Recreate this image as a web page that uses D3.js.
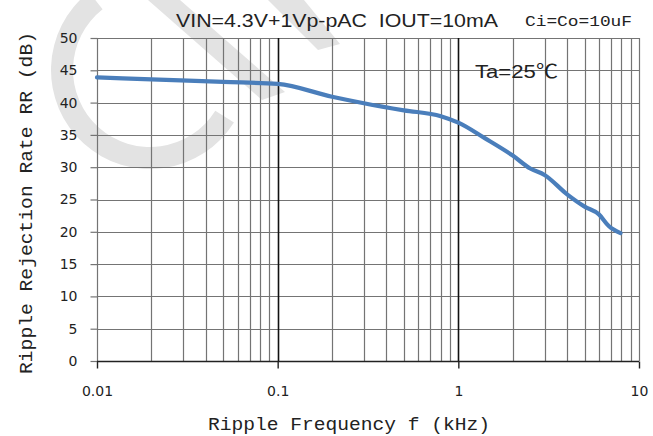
<!DOCTYPE html>
<html>
<head>
<meta charset="utf-8">
<script src="https://cdn.jsdelivr.net/npm/d3@7"></script>
<style>
  html, body { margin: 0; padding: 0; background: #fff; }
  svg { display: block; }
</style>
</head>
<body>
<svg id="chart" width="653" height="436"></svg>
<script>
// ---- data ----
const freqKHz = [0.01, 0.02, 0.05, 0.1, 0.2, 0.3, 0.5, 0.8, 1, 1.4, 2, 2.5, 3, 4, 5, 6, 6.8, 7.9];
const rejectionDB = [43.9, 43.6, 43.2, 42.9, 40.9, 39.9, 38.8, 37.9, 36.9, 34.5, 31.8, 29.8, 28.8, 25.8, 23.9, 22.7, 20.9, 19.8];
const xTickValues = [0.01, 0.1, 1, 10];
const xTickLabels = ["0.01", "0.1", "1", "10"];
const yTickValues = [0, 5, 10, 15, 20, 25, 30, 35, 40, 45, 50];
const titleText = "VIN=4.3V+1Vp-pAC  IOUT=10mA";
const capText = "Ci=Co=10uF";
const tempText = "Ta=25℃";
const xTitle = "Ripple Frequency f (kHz)";
const yTitle = "Ripple Rejection Rate RR (dB)";

// ---- layout ----
const svg = d3.select("#chart");
const L = 97, R = 639, T = 38, B = 361;
const x = d3.scaleLog().domain([0.01, 10]).range([L, R]);
const y = d3.scaleLinear().domain([0, 50]).range([B, T]);

// ---- watermark (light grey) ----
const wm = svg.append("g").attr("fill", "#e3e3e3");
wm.append("path")
  .attr("transform", "translate(150,70)")
  .attr("d", d3.arc()({innerRadius: 77, outerRadius: 99,
      startAngle: 122 * Math.PI / 180, endAngle: 322 * Math.PI / 180}));
wm.append("polygon").attr("points", "148,0 180,0 285,92 262,100");
wm.append("polygon").attr("points", "268,0 304,0 340,44 318,50");

// ---- grid ----
const grid = svg.append("g");
const minor = [];
[0.01, 0.1, 1].forEach(d => { for (let k = 2; k <= 9; k++) minor.push(d * k); });
const gridColor = "#747474";
grid.selectAll("line.vminor").data(minor).join("line")
  .attr("x1", d => Math.round(x(d)) + 0.5).attr("x2", d => Math.round(x(d)) + 0.5)
  .attr("y1", T).attr("y2", B)
  .attr("stroke", gridColor).attr("stroke-width", 1.2);
grid.selectAll("line.h").data(yTickValues.filter(v => v > 0)).join("line")
  .attr("x1", L).attr("x2", R)
  .attr("y1", d => Math.round(y(d)) + 0.5).attr("y2", d => Math.round(y(d)) + 0.5)
  .attr("stroke", gridColor).attr("stroke-width", 1.2);
// right border (10 kHz) and left axis
grid.append("line").attr("x1", x(10) + 0.5).attr("x2", x(10) + 0.5).attr("y1", T).attr("y2", B)
  .attr("stroke", gridColor).attr("stroke-width", 1.2);
grid.append("line").attr("x1", L + 0.5).attr("x2", L + 0.5).attr("y1", T).attr("y2", B)
  .attr("stroke", gridColor).attr("stroke-width", 1.2);
// decade lines
grid.selectAll("line.dec").data([0.1, 1]).join("line")
  .attr("x1", d => Math.round(x(d)) + 0.5).attr("x2", d => Math.round(x(d)) + 0.5)
  .attr("y1", T).attr("y2", B)
  .attr("stroke", "#111").attr("stroke-width", 1.6);

// ---- axes ----
const yAxis = d3.axisLeft(y).tickValues(yTickValues).tickSize(7).tickPadding(13).tickFormat(d3.format("d"));
const gy = svg.append("g").attr("transform", `translate(${L + 0.5},0)`).call(yAxis);
gy.select(".domain").remove();
gy.selectAll(".tick line").attr("stroke", gridColor).attr("stroke-width", 1.2);
gy.selectAll(".tick text").attr("font-family", "'DejaVu Sans', Verdana, sans-serif")
  .attr("font-size", 14).attr("fill", "#222");

const xAxis = d3.axisBottom(x).tickValues(xTickValues).tickSize(7).tickPadding(18)
  .tickFormat((d, i) => xTickLabels[i]);
const gx = svg.append("g").attr("transform", `translate(0,${B + 0.5})`).call(xAxis);
gx.select(".domain").attr("d", `M${L},0H${R}`).attr("stroke", "#222").attr("stroke-width", 1.6);
gx.selectAll(".tick line").attr("stroke", "#222").attr("stroke-width", 1.4);
gx.selectAll(".tick text").attr("font-family", "'DejaVu Sans', Verdana, sans-serif")
  .attr("font-size", 14).attr("fill", "#222");

// ---- data line ----
const line = d3.line().x((d, i) => x(freqKHz[i])).y(d => y(d)).curve(d3.curveMonotoneX);
svg.append("path").datum(rejectionDB)
  .attr("d", line).attr("fill", "none")
  .attr("stroke", "#4a7ebb").attr("stroke-width", 4.2)
  .attr("stroke-linejoin", "round").attr("stroke-linecap", "round");

// ---- texts ----
svg.append("text").attr("x", 176).attr("y", 27)
  .attr("font-family", "'Liberation Sans', Arial, sans-serif").attr("font-size", 18)
  .attr("fill", "#222").attr("textLength", 322).attr("lengthAdjust", "spacingAndGlyphs")
  .attr("xml:space", "preserve").text(titleText);
svg.append("text").attr("x", 525).attr("y", 26)
  .attr("font-family", "'Liberation Mono', monospace").attr("font-size", 15)
  .attr("fill", "#222").attr("textLength", 107).attr("lengthAdjust", "spacingAndGlyphs")
  .text(capText);
svg.append("text").attr("x", 475).attr("y", 78)
  .attr("font-family", "'Liberation Sans', 'Noto Sans CJK SC', sans-serif").attr("font-size", 19)
  .attr("fill", "#222").attr("textLength", 83).attr("lengthAdjust", "spacingAndGlyphs")
  .text(tempText);

svg.append("text").attr("x", 208).attr("y", 430)
  .attr("font-family", "'Liberation Mono', monospace").attr("font-size", 18)
  .attr("fill", "#222").attr("textLength", 282).attr("lengthAdjust", "spacingAndGlyphs")
  .text(xTitle);
svg.append("text").attr("transform", "translate(32,374) rotate(-90)")
  .attr("font-family", "'Liberation Mono', monospace").attr("font-size", 19)
  .attr("fill", "#222").attr("textLength", 342).attr("lengthAdjust", "spacingAndGlyphs")
  .text(yTitle);
</script>
</body>
</html>
